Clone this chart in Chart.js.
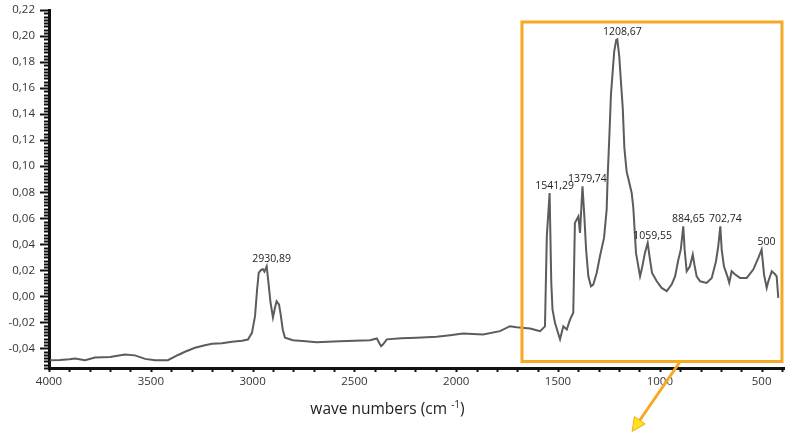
<!DOCTYPE html>
<html>
<head>
<meta charset="utf-8">
<script src="https://cdn.jsdelivr.net/npm/chart.js@4.4.0/dist/chart.umd.min.js"></script>
<style>
  body { margin: 0; background: #fff; }
  #wrap { width: 790px; height: 436px; }
</style>
</head>
<body>
<div id="wrap"><canvas id="ir-chart"></canvas></div>
<script>
// FTIR spectrum: wavenumber (cm-1) vs absorbance
const waveNumber = [
  3995, 3946, 3900, 3872, 3823, 3774, 3700, 3627, 3578, 3528, 3479, 3416, 3366, 3332, 3283,
  3234, 3199, 3150, 3101, 3052, 3023, 3003, 2988, 2978, 2970, 2960, 2950, 2942, 2930.89, 2922,
  2912, 2900, 2890, 2882, 2870, 2862, 2852, 2841, 2802, 2740, 2685, 2630, 2571, 2500, 2423,
  2390, 2369, 2360, 2341, 2270, 2194, 2096, 2030, 1967, 1868, 1785, 1736, 1703, 1637, 1605,
  1588, 1564, 1555, 1541.29, 1533, 1527, 1515, 1490, 1474, 1457, 1441, 1425, 1417, 1400, 1392,
  1379.74, 1372, 1362, 1351, 1338, 1327, 1310, 1294, 1274, 1261, 1256, 1250, 1246, 1240, 1232,
  1224, 1214, 1208.67, 1199, 1192, 1182, 1174, 1163, 1138, 1130, 1117, 1097, 1089, 1073, 1059.55,
  1048, 1038, 1015, 991, 966, 942, 925, 909, 897, 884.65, 878, 868, 852, 838, 830,
  819, 802, 770, 745, 724, 713, 702.74, 696, 685, 668, 659, 647, 631, 606, 573,
  541, 516, 500, 488, 475, 467, 450, 434, 426, 418
];
const absorbance = [
  -0.049, -0.0488, -0.0483, -0.0477, -0.049, -0.047, -0.0465, -0.0446, -0.0453, -0.048, -0.049, -0.049, -0.045, -0.0425, -0.0395,
  -0.0375, -0.0364, -0.036, -0.0349, -0.034, -0.0331, -0.028, -0.015, 0.005, 0.018, 0.020, 0.021, 0.019, 0.023, 0.0104,
  -0.0047, -0.0162, -0.0086, -0.0037, -0.0063, -0.014, -0.0254, -0.0318, -0.0336, -0.0345, -0.0352, -0.0348, -0.0344, -0.034, -0.0336,
  -0.0323, -0.0382, -0.037, -0.033, -0.0322, -0.0318, -0.031, -0.0298, -0.0285, -0.0292, -0.0267, -0.0229, -0.0237, -0.0247, -0.026,
  -0.0267, -0.023, 0.046, 0.0794, 0.0104, -0.010, -0.0203, -0.033, -0.023, -0.0254, -0.0178, -0.0126, 0.0564, 0.0615, 0.0487,
  0.0845, 0.0653, 0.036, 0.0154, 0.0078, 0.009, 0.018, 0.0308, 0.0449, 0.0666, 0.0922, 0.115, 0.13, 0.1548, 0.1714,
  0.188, 0.197, 0.1975, 0.1842, 0.1676, 0.1446, 0.1139, 0.096, 0.0794, 0.0679, 0.0334, 0.0154, 0.0206, 0.0334, 0.041,
  0.028, 0.018, 0.0116, 0.0065, 0.004, 0.0091, 0.0154, 0.0282, 0.0359, 0.0538, 0.0359, 0.0193, 0.0231, 0.0321, 0.0244,
  0.0154, 0.0116, 0.0104, 0.0142, 0.027, 0.0385, 0.0538, 0.0359, 0.0231, 0.0154, 0.0104, 0.0193, 0.017, 0.0142, 0.0142,
  0.0206, 0.0296, 0.0359, 0.0167, 0.0065, 0.0116, 0.0193, 0.017, 0.0154, -0.0011
];

// labelled peaks
const peakWave = [2930.89, 1541.29, 1379.74, 1208.67, 1059.55, 884.65, 702.74, 500];
const peakText = ['2930,89', '1541,29', '1379,74', '1208,67', '1059,55', '884,65', '702,74', '500'];

// axis ticks
const xTicks = [4000, 3500, 3000, 2500, 2000, 1500, 1000, 500];
const yTicks = [-0.04, -0.02, 0, 0.02, 0.04, 0.06, 0.08, 0.10, 0.12, 0.14, 0.16, 0.18, 0.20, 0.22];

// highlighted fingerprint region and the arrow leaving it
const boxWave = [1677, 400];
const boxAbs = [0.2108, -0.050];
const arrowWave = [900, 1136];
const arrowAbs = [-0.050, -0.1037];

const ORANGE = '#F7A823';
const FONT = "'Open Sans', 'DejaVu Sans', sans-serif";

const points = waveNumber.map((w, i) => ({ x: w, y: absorbance[i] }));

// tick marks, peak labels, box, arrow, axis title
const extras = {
  id: 'extras',
  afterDraw(chart) {
    const ctx = chart.ctx;
    const xs = chart.scales.x, ys = chart.scales.y;
    const area = chart.chartArea;
    ctx.save();

    // minor / major tick marks
    ctx.strokeStyle = '#111';
    ctx.lineWidth = 2;
    for (let v = -0.055; v <= 0.2201; v += 0.0025) {
      const py = Math.round(ys.getPixelForValue(v)) + 0.5;
      const major = Math.abs(v / 0.02 - Math.round(v / 0.02)) < 0.01;
      ctx.beginPath();
      ctx.moveTo(area.left - (major ? 9 : 5), py);
      ctx.lineTo(area.left, py);
      ctx.stroke();
    }
    for (let v = 4000; v >= 400; v -= 100) {
      const px = Math.round(xs.getPixelForValue(v)) + 0.5;
      ctx.beginPath();
      ctx.moveTo(px, area.bottom);
      ctx.lineTo(px, area.bottom + 4);
      ctx.stroke();
    }

    // peak labels
    ctx.fillStyle = '#222';
    ctx.font = '10.5px ' + FONT;
    ctx.textAlign = 'center';
    ctx.textBaseline = 'bottom';
    peakWave.forEach((w, i) => {
      const y = absorbance[waveNumber.indexOf(w)];
      ctx.fillText(peakText[i], xs.getPixelForValue(w) + 5, ys.getPixelForValue(y) - 2);
    });

    // region box
    const bx0 = xs.getPixelForValue(boxWave[0]), bx1 = xs.getPixelForValue(boxWave[1]);
    const by0 = ys.getPixelForValue(boxAbs[0]), by1 = ys.getPixelForValue(boxAbs[1]);
    ctx.strokeStyle = ORANGE;
    ctx.lineWidth = 3;
    ctx.strokeRect(bx0, by0, bx1 - bx0, by1 - by0);

    // arrow
    const ax0 = xs.getPixelForValue(arrowWave[0]), ay0 = ys.getPixelForValue(arrowAbs[0]);
    const ax1 = xs.getPixelForValue(arrowWave[1]), ay1 = ys.getPixelForValue(arrowAbs[1]);
    const ang = Math.atan2(ay1 - ay0, ax1 - ax0);
    const head = 15;
    ctx.beginPath();
    ctx.moveTo(ax0, ay0);
    ctx.lineTo(ax1 - Math.cos(ang) * head * 0.8, ay1 - Math.sin(ang) * head * 0.8);
    ctx.stroke();
    ctx.beginPath();
    ctx.moveTo(ax1, ay1);
    ctx.lineTo(ax1 - head * Math.cos(ang - 0.45), ay1 - head * Math.sin(ang - 0.45));
    ctx.lineTo(ax1 - head * Math.cos(ang + 0.45), ay1 - head * Math.sin(ang + 0.45));
    ctx.closePath();
    ctx.fillStyle = '#FFE21A';
    ctx.fill();
    ctx.lineWidth = 1;
    ctx.stroke();

    // axis title with superscript
    const cx = (area.left + area.right) / 2 - 29;
    const base = area.bottom + 46;
    ctx.fillStyle = '#222';
    ctx.textAlign = 'left';
    ctx.textBaseline = 'alphabetic';
    const t1 = 'wave numbers (cm ', t3 = ')';
    ctx.font = '15.5px ' + FONT;
    const w1 = ctx.measureText(t1).width, w3 = ctx.measureText(t3).width;
    ctx.font = '10px ' + FONT;
    const w2 = ctx.measureText('-1').width;
    const x0 = cx - (w1 + w2 + w3) / 2;
    ctx.font = '15.5px ' + FONT;
    ctx.fillText(t1, x0, base);
    ctx.font = '10px ' + FONT;
    ctx.fillText('-1', x0 + w1, base - 6);
    ctx.font = '15.5px ' + FONT;
    ctx.fillText(t3, x0 + w1 + w2, base);

    ctx.restore();
  }
};

const config = {
  type: 'line',
  data: {
    datasets: [{
      data: points,
      borderColor: '#5c5c5c',
      borderWidth: 2,
      pointRadius: 0,
      tension: 0,
      fill: false
    }]
  },
  options: {
    responsive: true,
    maintainAspectRatio: false,
    animation: false,
    layout: { padding: { top: 10, right: 6, left: 0, bottom: 0 } },
    plugins: { legend: { display: false }, tooltip: { enabled: false } },
    scales: {
      x: {
        type: 'linear',
        reverse: true,
        min: 390,
        max: 4000,
        afterBuildTicks: axis => { axis.ticks = xTicks.map(v => ({ value: v })); },
        afterFit: axis => { axis.height = 68; axis.paddingLeft = 0; axis.paddingRight = 0; },
        grid: { display: false, drawTicks: false },
        border: { display: true, color: '#111', width: 3 },
        ticks: {
          color: '#333',
          font: { family: FONT, size: 11.5 },
          padding: 7,
          maxRotation: 0,
          callback: v => String(v)
        }
      },
      y: {
        min: -0.055,
        max: 0.22,
        afterBuildTicks: axis => { axis.ticks = yTicks.map(v => ({ value: v })); },
        afterFit: axis => { axis.width = 49; axis.paddingTop = 0; axis.paddingBottom = 0; },
        grid: { display: false, drawTicks: false },
        border: { display: true, color: '#111', width: 3 },
        ticks: {
          color: '#333',
          font: { family: FONT, size: 11.5 },
          padding: 14,
          callback: v => v.toFixed(2).replace('.', ',').replace('-0,00', '0,00')
        }
      }
    }
  },
  plugins: [extras]
};

window.onload = function() {
  const ctx = document.getElementById('ir-chart').getContext('2d');
  window.irChart = new Chart(ctx, config);
};
</script>
</body>
</html>
